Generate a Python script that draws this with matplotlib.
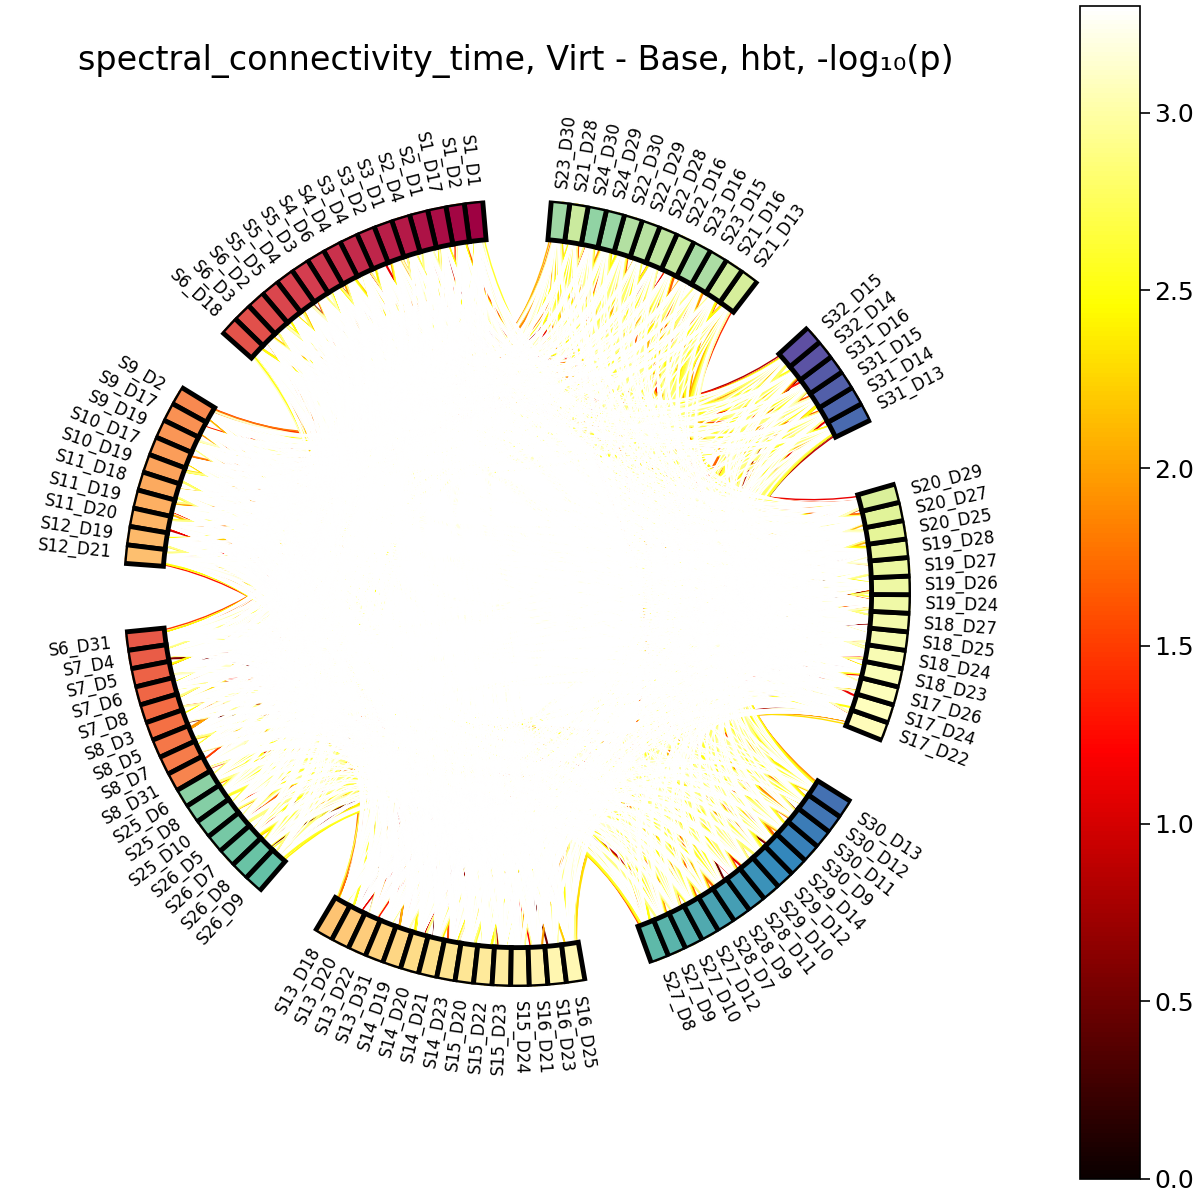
import re
import numpy as np
import matplotlib
matplotlib.use("Agg")
import matplotlib.pyplot as plt
from matplotlib.path import Path
from matplotlib.patches import PathPatch
from matplotlib.cm import ScalarMappable
from matplotlib.colors import Normalize

# channel pairs in drawing order, counter clockwise from the top
group_1 = ["S1_D1", "S1_D2", "S1_D17", "S2_D1", "S2_D4", "S3_D1", "S3_D2", "S3_D4",
           "S4_D4", "S4_D6", "S5_D3", "S5_D4", "S5_D5", "S6_D2", "S6_D3", "S6_D18"]
group_2 = ["S9_D2", "S9_D17", "S9_D19", "S10_D17", "S10_D19", "S11_D18", "S11_D19",
           "S11_D20", "S12_D19", "S12_D21"]
group_3 = ["S6_D31", "S7_D4", "S7_D5", "S7_D6", "S7_D8", "S8_D3", "S8_D5", "S8_D7",
           "S8_D31", "S25_D6", "S25_D8", "S25_D10", "S26_D5", "S26_D7", "S26_D8", "S26_D9"]
group_4 = ["S13_D18", "S13_D20", "S13_D22", "S13_D31", "S14_D19", "S14_D20", "S14_D21",
           "S14_D23", "S15_D20", "S15_D22", "S15_D23", "S15_D24", "S16_D21", "S16_D23", "S16_D25"]
group_5 = ["S27_D8", "S27_D9", "S27_D10", "S27_D12", "S28_D7", "S28_D9", "S28_D11",
           "S29_D10", "S29_D12", "S29_D14", "S30_D9", "S30_D11", "S30_D12", "S30_D13"]
group_6 = ["S17_D22", "S17_D24", "S17_D26", "S18_D23", "S18_D24", "S18_D25", "S18_D27",
           "S19_D24", "S19_D26", "S19_D27", "S19_D28", "S20_D25", "S20_D27", "S20_D29"]
group_7 = ["S31_D13", "S31_D14", "S31_D15", "S31_D16", "S32_D14", "S32_D15"]
group_8 = ["S21_D13", "S21_D16", "S23_D15", "S23_D16", "S22_D16", "S22_D28", "S22_D29",
           "S22_D30", "S24_D29", "S24_D30", "S21_D28", "S23_D30"]
groups = [group_1, group_2, group_3, group_4, group_5, group_6, group_7, group_8]

vmin = 0.0
vmax = 3.3

# The matrix has about 5000 lines and most of them are hidden, so it can't be read
# line by line. These are the colours seen per region, repeated along the lines of
# a node. nan = nothing to see
active_levels = [2.5, np.nan, 3.3, 2.1, np.nan, 2.8, np.nan, 2.4, 2.6, np.nan, 1.7, np.nan, 2.9]
mixed_levels = [3.3, 3.3, np.nan, 2.9, np.nan, 3.3, 2.5, np.nan, 3.1, np.nan, 3.3, 3.3, np.nan]
quiet_levels = [3.3, 3.3, 3.3, 3.2, 3.3, np.nan, 3.3, 3.3, np.nan]
far_levels = [np.nan, np.nan, 3.3, np.nan, np.nan, np.nan, np.nan]
active_nodes = group_3[9:] + group_5 + group_7 + group_8
near_limit = 120  # deg, longer lines end up in the white middle

# strongest colour at the foot of each channel pair
node_tip = [
    2.6, 2.4, 1.8, 2.3, 1.6, 1.9, 2.4, 1.7, 1.4, 2.0, 1.5, 2.2, 1.8, 2.3, 1.5, 1.9,
    2.1, 1.5, 2.3, 1.7, 2.2, 2.0, 1.5, 0.6, 2.2, 1.8,
    2.6, 0.6, 2.2, 1.0, 2.4, 0.5, 1.6, 1.4, 0.5, 1.7, 1.5, 1.2, 0.5, 0.6, 0.5, 0.4,
    2.6, 0.5, 0.7, 2.3, 2.5, 0.5, 2.4, 0.6, 2.0, 2.3, 2.6, 2.2, 2.0, 2.5, 2.3,
    1.4, 1.3, 1.5, 2.3, 1.8, 0.5, 0.4, 1.3, 0.5, 0.6, 1.0, 0.4, 1.4, 1.3,
    0.8, 0.5, 1.7, 2.2, 1.7, 2.0, 1.6, 1.8, 2.2, 1.9, 1.6, 2.2, 1.7, 1.5,
    1.5, 0.5, 1.6, 0.7, 2.2, 1.3,
    1.4, 1.6, 1.5, 1.5, 0.8, 0.6, 0.5, 1.2, 1.3, 0.8, 1.2, 1.6,
]

# single lines that show up along the gaps between the groups
rim_a = ["S1_D1", "S23_D30", "S6_D18", "S9_D2", "S12_D21", "S6_D31", "S26_D9", "S26_D8",
         "S13_D18", "S16_D25", "S27_D8", "S30_D13", "S17_D22", "S20_D29", "S31_D13",
         "S32_D15", "S21_D13"]
rim_b = ["S19_D24", "S12_D19", "S26_D5", "S21_D28", "S14_D23", "S1_D2", "S30_D12", "S30_D11",
         "S9_D17", "S20_D25", "S7_D8", "S21_D16", "S13_D31", "S2_D1", "S27_D12",
         "S4_D6", "S30_D9"]
rim_val = [2.6, 2.1, 3.1, 1.8, 1.3, 1.5, 2.4, 2.6, 2.7, 2.1, 1.5, 1.8, 2.3, 1.1, 0.9, 0.8, 1.4]

node_names = [name for g in groups for name in g]
n_nodes = len(node_names)

# layout: 10 degree gap between groups, first edge at 95 deg
node_width = np.deg2rad((360 - 10 * len(groups)) / n_nodes)
gap = np.deg2rad(10)
node_angles = []
pos = np.deg2rad(95) + node_width / 2
for g in groups:
    for _ in g:
        node_angles.append(pos)
        pos += node_width
    pos += gap
node_angles = np.array(node_angles)


def sort_key(name):
    s, d = re.match(r"S(\d+)_D(\d+)", name).groups()
    return int(s), int(d)


ranked = sorted(node_names, key=sort_key)
cmap_nodes = plt.get_cmap("Spectral")
node_colors = [cmap_nodes(ranked.index(name) / (n_nodes - 1)) for name in node_names]

edges = {}
widths = {}
for i in range(n_nodes):
    for j in range(i + 1, n_nodes):
        n_active = (node_names[i] in active_nodes) + (node_names[j] in active_nodes)
        apart = abs((np.rad2deg(node_angles[i] - node_angles[j]) + 180) % 360 - 180)
        lv = [quiet_levels, mixed_levels, active_levels][n_active]
        if apart > near_limit and n_active > 0:
            lv = far_levels
        val = lv[(i * 5 + j * 2) % len(lv)]
        if not np.isnan(val):
            edges[(i, j)] = val
            widths[(i, j)] = 2.0 if n_active == 2 else 1.5

# the tips: a few short lines from each node with the colour seen at its foot
for i, val in enumerate(node_tip):
    for step, extra in zip([17, 9, 24], [0.0, 0.3, 0.6]):
        j = (i + step) % n_nodes
        edges[(min(i, j), max(i, j))] = val + extra
        widths[(min(i, j), max(i, j))] = 1.5

rim_pairs = set()
for a, b, val in zip(rim_a, rim_b, rim_val):
    i, j = node_names.index(a), node_names.index(b)
    edges[(min(i, j), max(i, j))] = val
    rim_pairs.add((i, j))

pairs = sorted(edges, key=lambda p: edges[p])

n_con = np.zeros(n_nodes)
for i, j in pairs:
    n_con[i] += 1
    n_con[j] += 1

fig = plt.figure(figsize=(12, 12), dpi=100)
R = 394
ax = fig.add_axes([(517 - R) / 1200, (1200 - 593 - R) / 1200, 2 * R / 1200, 2 * R / 1200],
                  projection="polar")
ax.set_xticks([])
ax.set_yticks([])
ax.spines["polar"].set_visible(False)
ax.grid(False)

cmap = plt.get_cmap("hot")
norm = Normalize(vmin, vmax)

noise_max = 0.25 * node_width
seen = np.zeros(n_nodes)
for c, (i, j) in enumerate(pairs):
    seen[i] += 1
    seen[j] += 1
    val = edges[(i, j)]
    # fixed spread around the node centre, the white lines leave from the middle
    off_i = noise_max * (2 * ((c * 0.618) % 1) - 1) * (n_con[i] - seen[i]) / n_con[i]
    off_j = noise_max * (2 * ((c * 0.382 + 0.2) % 1) - 1) * (n_con[j] - seen[j]) / n_con[j]
    width = widths.get((i, j), 1.0)
    if val >= 3.2:
        off_i = off_j = 0
        width = 1.0
    if (i, j) in rim_pairs or (j, i) in rim_pairs:
        width = 1.0
        side = np.sign(np.sin(node_angles[j] - node_angles[i]))
        if (i, j) in rim_pairs:
            off_i = side * noise_max
        else:
            off_j = -side * noise_max
    t0 = node_angles[i] + off_i
    t1 = node_angles[j] + off_j
    verts = [(t0, 10), (t0, 5), (t1, 5), (t1, 10)]
    codes = [Path.MOVETO, Path.CURVE4, Path.CURVE4, Path.LINETO]
    ax.add_patch(PathPatch(Path(verts, codes), fill=False, edgecolor=cmap(norm(val)),
                           linewidth=width, zorder=0))

bars = ax.bar(node_angles, np.ones(n_nodes), width=node_width, bottom=9, edgecolor="black",
              linewidth=3.5, facecolor=".9", align="center", zorder=3)
for bar, color in zip(bars, node_colors):
    bar.set_facecolor(color)

for name, angle in zip(node_names, node_angles):
    deg = np.rad2deg(angle) % 360
    if deg >= 270 or deg < 90:
        ha = "left"
        rot = deg
    else:
        ha = "right"
        rot = deg + 180
    ax.text(angle, 10.35, name, size=12, rotation=rot, rotation_mode="anchor",
            ha=ha, va="center", color="black")

ax.set_ylim(0, 10)

fig.text(516 / 1200, 1 - 61 / 1200, "spectral_connectivity_time, Virt - Base, hbt, -log₁₀(p)",
         fontsize=24, ha="center", va="center")

cax = fig.add_axes([1080 / 1200, 21 / 1200, 60 / 1200, 1173 / 1200])
cb = fig.colorbar(ScalarMappable(norm=norm, cmap=cmap), cax=cax)
cb.set_ticks(np.arange(0, 3.5, 0.5))
cb.ax.tick_params(labelsize=18, length=7, width=1.2)
cb.outline.set_linewidth(1.2)

fig.savefig("out.png", dpi=100, facecolor="white")
